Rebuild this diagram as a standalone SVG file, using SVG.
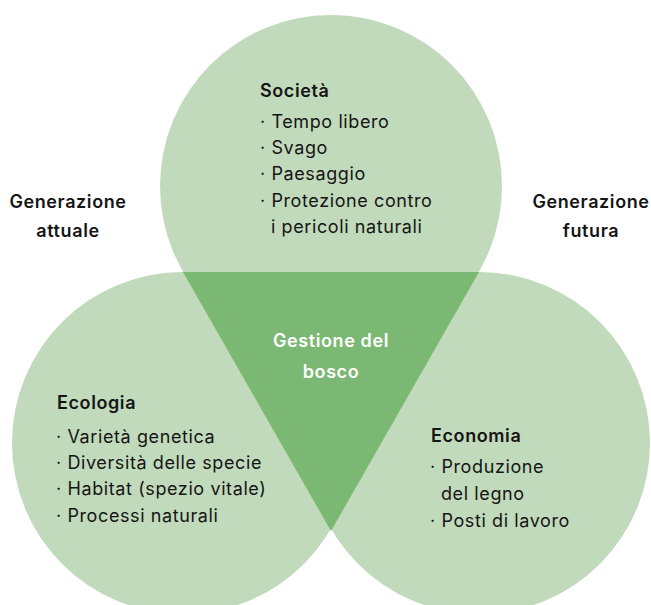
<svg xmlns="http://www.w3.org/2000/svg" width="651" height="605" viewBox="0 0 651 605">
<style>
.c{fill:#c1dabb}
.t{fill:#7bb873}
text{font-family:Inter,"Noto Sans","Liberation Sans",sans-serif;fill:#151515;font-size:18px;letter-spacing:0.6px}
.h{font-weight:600}
.w{fill:#ffffff;font-weight:600;text-anchor:middle}
.m{text-anchor:middle;font-weight:600}
</style>
<rect width="651" height="605" fill="#ffffff"/>
<g id="societa">
<circle class="c" cx="331" cy="186" r="171"/>
</g>
<g id="ecologia">
<circle class="c" cx="183" cy="443" r="171"/>
</g>
<g id="economia">
<circle class="c" cx="479" cy="443" r="171"/>
</g>
<g id="gestione">
<polygon class="t" points="183,272 479,272 331,531"/>
<text class="w" x="331" y="347">Gestione del</text>
<text class="w" x="331" y="378">bosco</text>
</g>
<g id="societa-text">
<text class="h" x="260" y="97">Società</text>
<text x="260" y="128">· Tempo libero</text>
<text x="260" y="154">· Svago</text>
<text x="260" y="180">· Paesaggio</text>
<text x="260" y="207">· Protezione contro</text>
<text x="271" y="233">i pericoli naturali</text>
</g>
<g id="ecologia-text">
<text class="h" x="57" y="409">Ecologia</text>
<text x="56" y="443">· Varietà genetica</text>
<text x="56" y="469">· Diversità delle specie</text>
<text x="56" y="495">· Habitat (spezio vitale)</text>
<text x="56" y="522">· Processi naturali</text>
</g>
<g id="economia-text">
<text class="h" x="431" y="442">Economia</text>
<text x="430" y="473">· Produzione</text>
<text x="441" y="500">del legno</text>
<text x="430" y="527">· Posti di lavoro</text>
</g>
<g id="generazione-attuale">
<text class="m" x="68" y="208">Generazione</text>
<text class="m" x="68" y="237">attuale</text>
</g>
<g id="generazione-futura">
<text class="m" x="591" y="208">Generazione</text>
<text class="m" x="591" y="237">futura</text>
</g>
<g id="connectors"/>
</svg>
